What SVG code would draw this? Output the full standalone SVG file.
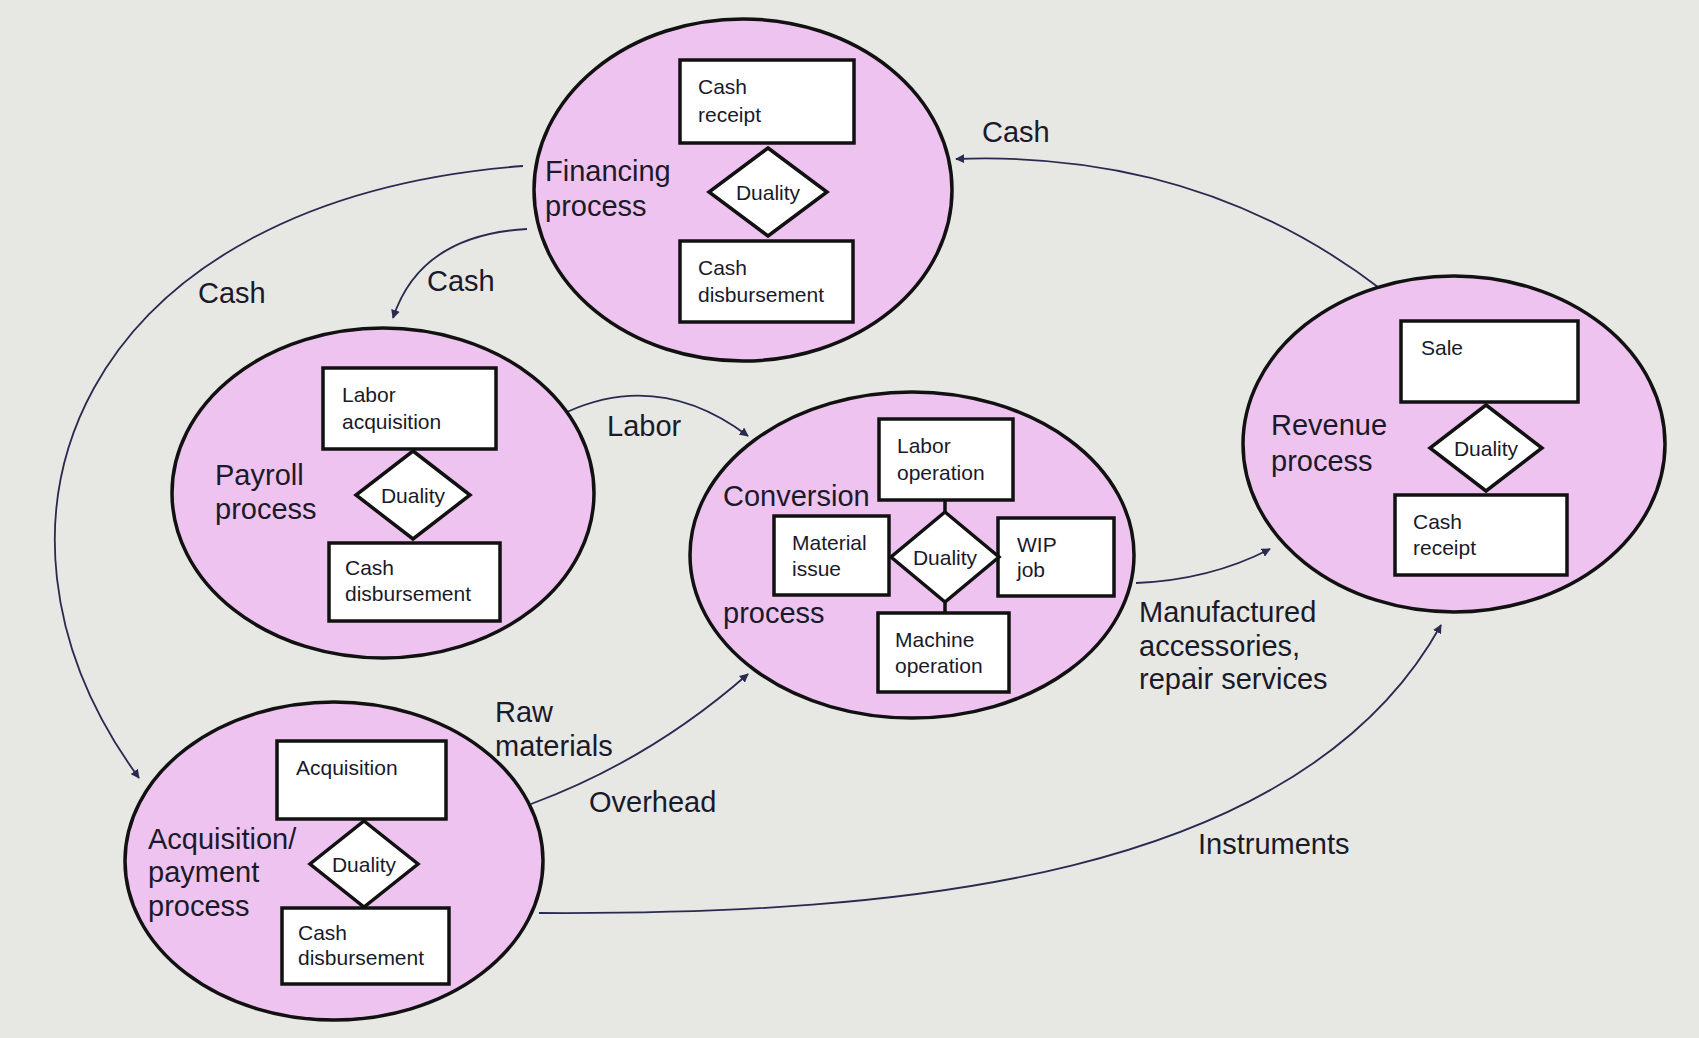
<svg xmlns="http://www.w3.org/2000/svg" width="1699" height="1038" viewBox="0 0 1699 1038">
<style>
.proc{fill:#efc3ef;stroke:#111;stroke-width:3.5}
.box{fill:#fff;stroke:#111;stroke-width:3.5}
.dia{fill:#fff;stroke:#111;stroke-width:3.5}
.t{font-family:"Liberation Sans",Arial,sans-serif;fill:#1a1a2a}
.big{font-size:29px}
.sm{font-size:21px}
.con{fill:none;stroke:#2a2a50;stroke-width:1.8;marker-end:url(#ah)}
</style>
<defs>
<marker id="ah" viewBox="0 0 10 10" refX="9" refY="5" markerWidth="9" markerHeight="9" orient="auto" markerUnits="userSpaceOnUse"><path d="M0,0 L10,5 L0,10 z" fill="#2a2a50"/></marker>
</defs>
<rect width="1699" height="1038" fill="#e7e7e4"/>
<g id="connectors">
<path class="con" d="M1382,290 Q1200,150 956,159"/>
<path class="con" d="M523,166 C80,200 -50,520 139,778"/>
<path class="con" d="M527,229 Q420,235 393,318"/>
<path class="con" d="M567,412 Q660,370 748,436"/>
<path class="con" d="M531,804 Q650,760 748,674"/>
<path class="con" d="M1136,583 Q1210,580 1270,549"/>
<path class="con" d="M539,913 C900,915 1300,880 1441,625"/>
<g class="t big" dominant-baseline="central">
<text x="982" y="132">Cash</text>
<text x="198" y="293">Cash</text>
<text x="427" y="281">Cash</text>
<text x="607" y="426">Labor</text>
<text x="495" y="712">Raw</text>
<text x="495" y="746">materials</text>
<text x="589" y="802">Overhead</text>
<text x="1139" y="612">Manufactured</text>
<text x="1139" y="646">accessories,</text>
<text x="1139" y="679">repair services</text>
<text x="1198" y="844">Instruments</text>
</g>
</g>
<g id="financing">
<ellipse class="proc" cx="743" cy="190" rx="209" ry="171"/>
<rect class="box" x="680" y="60" width="174" height="83"/>
<polygon class="dia" points="768,148 827,192 768,236 709,192"/>
<rect class="box" x="680" y="241" width="173" height="81"/>
<g class="t" dominant-baseline="central">
<text class="big" x="545" y="171">Financing</text><text class="big" x="545" y="206">process</text>
<text class="sm" x="698" y="86">Cash</text><text class="sm" x="698" y="114">receipt</text>
<text class="sm" x="768" y="192" text-anchor="middle">Duality</text>
<text class="sm" x="698" y="267">Cash</text><text class="sm" x="698" y="294">disbursement</text>
</g>
</g>
<g id="payroll">
<ellipse class="proc" cx="383" cy="493" rx="211" ry="165"/>
<rect class="box" x="323" y="368" width="173" height="81"/>
<polygon class="dia" points="413,451 470,495 413,539 356,495"/>
<rect class="box" x="329" y="543" width="171" height="78"/>
<g class="t" dominant-baseline="central">
<text class="big" x="215" y="475">Payroll</text><text class="big" x="215" y="509">process</text>
<text class="sm" x="342" y="394">Labor</text><text class="sm" x="342" y="421">acquisition</text>
<text class="sm" x="413" y="495" text-anchor="middle">Duality</text>
<text class="sm" x="345" y="567">Cash</text><text class="sm" x="345" y="593">disbursement</text>
</g>
</g>
<g id="conversion">
<ellipse class="proc" cx="912" cy="555" rx="222" ry="163"/>
<line x1="945" y1="500" x2="945" y2="613" stroke="#111" stroke-width="3.5"/>
<rect class="box" x="879" y="419" width="134" height="81"/>
<rect class="box" x="774" y="516" width="115" height="79"/>
<rect class="box" x="998" y="518" width="116" height="78"/>
<rect class="box" x="878" y="613" width="131" height="79"/>
<polygon class="dia" points="945,512 999,557 945,602 891,557"/>
<g class="t" dominant-baseline="central">
<text class="big" x="723" y="496">Conversion</text><text class="big" x="723" y="613">process</text>
<text class="sm" x="897" y="445">Labor</text><text class="sm" x="897" y="472">operation</text>
<text class="sm" x="792" y="542">Material</text><text class="sm" x="792" y="568">issue</text>
<text class="sm" x="945" y="557" text-anchor="middle">Duality</text>
<text class="sm" x="1017" y="544">WIP</text><text class="sm" x="1017" y="569">job</text>
<text class="sm" x="895" y="639">Machine</text><text class="sm" x="895" y="665">operation</text>
</g>
</g>
<g id="revenue">
<ellipse class="proc" cx="1454" cy="444" rx="211" ry="168"/>
<rect class="box" x="1401" y="321" width="177" height="81"/>
<polygon class="dia" points="1486,405 1542,448 1486,491 1430,448"/>
<rect class="box" x="1395" y="495" width="172" height="80"/>
<g class="t" dominant-baseline="central">
<text class="big" x="1271" y="425">Revenue</text><text class="big" x="1271" y="461">process</text>
<text class="sm" x="1421" y="347">Sale</text>
<text class="sm" x="1486" y="448" text-anchor="middle">Duality</text>
<text class="sm" x="1413" y="521">Cash</text><text class="sm" x="1413" y="547">receipt</text>
</g>
</g>
<g id="acquisition">
<ellipse class="proc" cx="334" cy="861" rx="209" ry="159"/>
<rect class="box" x="277" y="741" width="169" height="78"/>
<polygon class="dia" points="364,821 418,864 364,907 310,864"/>
<rect class="box" x="282" y="908" width="167" height="76"/>
<g class="t" dominant-baseline="central">
<text class="big" x="148" y="839">Acquisition/</text><text class="big" x="148" y="872">payment</text><text class="big" x="148" y="906">process</text>
<text class="sm" x="296" y="767">Acquisition</text>
<text class="sm" x="364" y="864" text-anchor="middle">Duality</text>
<text class="sm" x="298" y="932">Cash</text><text class="sm" x="298" y="957">disbursement</text>
</g>
</g>
</svg>
